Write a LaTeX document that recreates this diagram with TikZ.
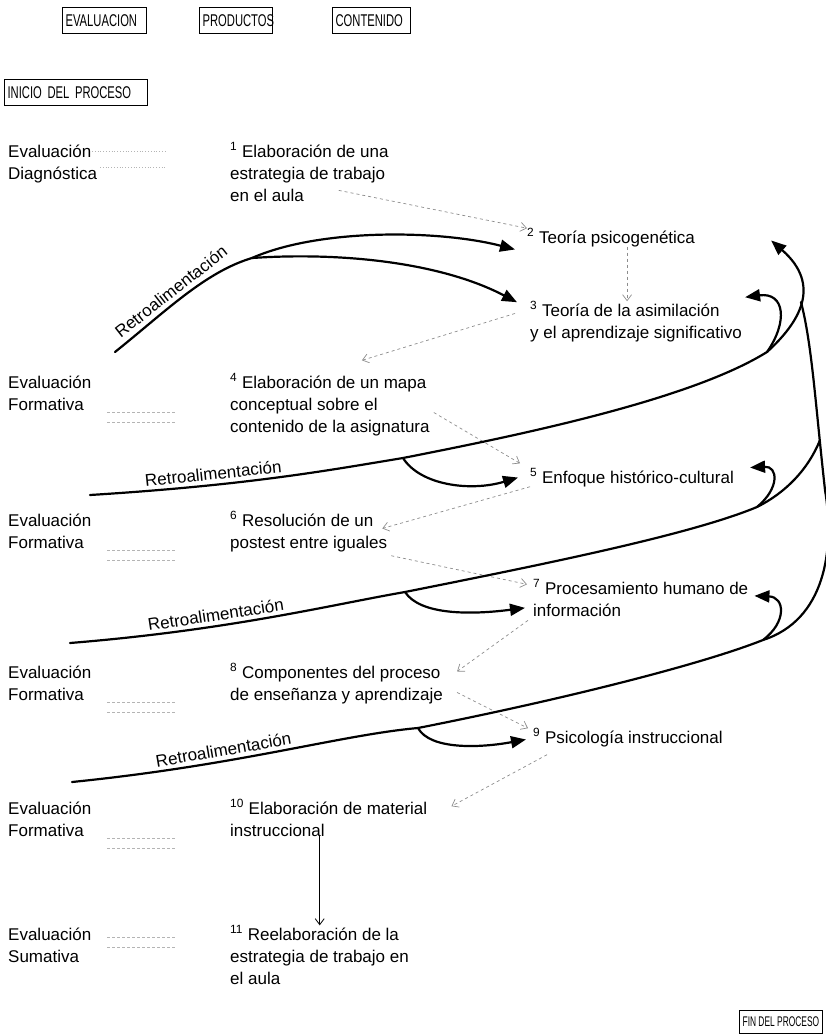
\documentclass[tikz,border=0pt]{standalone}
\usepackage{fontspec}
\setmainfont{Liberation Sans}
\newfontfamily\narrowfont{Liberation Sans}[FakeStretch=0.66]
\newfontfamily\tightfont{Liberation Sans}[FakeStretch=0.6]
\usetikzlibrary{arrows.meta}
\definecolor{scangray}{HTML}{8C8C8C}
\definecolor{ruleink}{HTML}{B4B4B4}

\begin{document}
\begin{tikzpicture}[x=1pt,y=-1pt,
  txt/.style={font=\fontsize{17}{22}\selectfont, align=left, inner sep=0pt, anchor=base west},
  hdr/.style={draw, line width=1.2pt, font=\narrowfont\fontsize{17}{20}\selectfont,
    inner xsep=3pt, inner ysep=0pt, minimum height=26pt, anchor=north west, align=left},
  flow/.style={scangray, dashed, line width=0.7pt, -{Straight Barb[length=6pt,width=9pt]}},
  retro/.style={line width=2.2pt, line cap=round},
  fb/.style={retro, -{Triangle[length=15pt,width=12pt]}},
  lbl/.style={font=\fontsize{17}{20}\selectfont, sloped, above=3pt, inner sep=1pt},
  marks/.style={ruleink, line width=0.8pt, densely dashed}]
  \useasboundingbox (0,0) rectangle (826,1036);

  % column headings
  \node[hdr, text width=78pt] (hev) at (62,7) {EVALUACION};
  \node[hdr, text width=67pt] (hpr) at (199,7) {PRODUCTOS};
  \node[hdr, text width=72pt] (hco) at (332,7) {CONTENIDO};
  \node[hdr, text width=137pt] (ini) at (4,79) {INICIO DEL PROCESO};
  \node[hdr, minimum width=83pt, minimum height=23pt, anchor=south east,
    font=\tightfont\fontsize{14}{16}\selectfont] (fin) at (823,1034) {FIN DEL PROCESO};

  % evaluacion (base = last line)
  \node[txt] (ev1) at (8,179) {Evaluación\\Diagnóstica};
  \node[txt] (ev2) at (8,410) {Evaluación\\Formativa};
  \node[txt] (ev3) at (8,548) {Evaluación\\Formativa};
  \node[txt] (ev4) at (8,700) {Evaluación\\Formativa};
  \node[txt] (ev5) at (8,836) {Evaluación\\Formativa};
  \node[txt] (ev6) at (8,962) {Evaluación\\Sumativa};

  \draw[marks, dotted] (92,151) -- (167,151) (100,167) -- (167,167);
  \draw[marks] (107,412) -- (175,412) (107,422) -- (175,422);
  \draw[marks] (107,550) -- (175,550) (107,560) -- (175,560);
  \draw[marks] (107,702) -- (175,702) (107,712) -- (175,712);
  \draw[marks] (107,838) -- (175,838) (107,848) -- (175,848);
  \draw[marks] (107,937) -- (175,937) (107,947) -- (175,947);

  % productos
  \node[txt] (p1) at (230,201) {\textsuperscript{1} Elaboración de una\\estrategia de trabajo\\en el aula};
  \node[txt] (p4) at (230,432) {\textsuperscript{4} Elaboración de un mapa\\conceptual sobre el\\contenido de la asignatura};
  \node[txt] (p6) at (230,548) {\textsuperscript{6} Resolución de un\\postest entre iguales};
  \node[txt] (p8) at (230,700) {\textsuperscript{8} Componentes del proceso\\de enseñanza y aprendizaje};
  \node[txt] (p10) at (230,836) {\textsuperscript{10} Elaboración de material\\instruccional};
  \node[txt] (p11) at (230,984) {\textsuperscript{11} Reelaboración de la\\estrategia de trabajo en\\el aula};

  % contenido
  \node[txt] (c2) at (527,243) {\textsuperscript{2} Teoría psicogenética};
  \node[txt] (c3) at (530,338) {\textsuperscript{3} Teoría de la asimilación\\y el aprendizaje significativo};
  \node[txt] (c5) at (530,483) {\textsuperscript{5} Enfoque histórico-cultural};
  \node[txt] (c7) at (533,616) {\textsuperscript{7} Procesamiento humano de\\información};
  \node[txt] (c9) at (533,743) {\textsuperscript{9} Psicología instruccional};

  % secuencia del proceso
  \draw[flow] ([shift={(-50,-11)}]p1.south east) -- (c2.north west);
  \draw[flow] ([xshift=16pt]c2.south) -- ([xshift=16pt]c2.south |- c3.north);
  \draw[flow] ([shift={(-15,-8)}]c3.west) -- ([shift={(32,-13)}]p4.north);
  \draw[flow] ([shift={(4,8)}]p4.east) -- ([shift={(-10,-5)}]c5.north west);
  \draw[flow] (c5.south west) -- ([shift={(-5,-3)}]p6.east);
  \draw[flow] ([shift={(4,4)}]p6.south east) -- ([shift={(-6,5)}]c7.north west);
  \draw[flow] ([shift={(-5,4)}]c7.south west) -- ([shift={(14,-12)}]p8.east);
  \draw[flow] ([shift={(14,9)}]p8.east) -- ([xshift=-5pt]c9.north west);
  \draw[flow] ([shift={(14,8)}]c9.south west) -- ([shift={(24,7)}]p10.north east);
  \draw[line width=0.8pt, -{Straight Barb[length=6pt,width=9pt]}]
    ([xshift=-9pt]p10.south) -- ([xshift=-9pt]p10.south |- p11.north);

  % retroalimentacion
  \coordinate (r1a) at (115,352);
  \coordinate (r1b) at (252,258);
  \draw[retro] (r1a) .. controls (165,312) and (205,272) .. node[lbl,pos=0.45] {Retroalimentación} (r1b);
  \draw[fb] (r1b) .. controls (320,228) and (440,230) .. ([shift={(-12,12)}]c2.west);
  \draw[fb] (r1b) .. controls (340,252) and (440,262) .. ([shift={(-13,1)}]c3.north west);

  \coordinate (r2a) at (90,495);
  \coordinate (r2b) at (403,458);
  \coordinate (r2c) at (767,352);
  \draw[fb] (r2a) .. controls (250,485) and (330,470) .. node[lbl,pos=0.3] {Retroalimentación} (r2b)
    .. controls (520,435) and (690,400) .. (r2c)
    .. controls (800,322) and (822,285) .. ([shift={(76,3)}]c2.east);
  \draw[fb] (r2b) .. controls (420,485) and (470,492) .. ([xshift=-12pt]c5.west);
  \draw[fb] (r2c) .. controls (788,322) and (785,292) .. ([shift={(3,-4)}]c3.north east);

  \coordinate (r3a) at (70,643);
  \coordinate (r3b) at (405,592);
  \coordinate (r3c) at (757,507);
  \draw[retro] (r3a) .. controls (230,630) and (330,605) .. node[lbl,pos=0.35] {Retroalimentación} (r3b)
    .. controls (540,565) and (690,535) .. (r3c)
    .. controls (785,493) and (808,470) .. (820,440);
  \draw[fb] (r3b) .. controls (420,615) and (470,615) .. ([shift={(-8,10)}]c7.west);
  \draw[fb] (r3c) .. controls (780,488) and (778,466) .. ([shift={(16,-10)}]c5.east);

  \coordinate (r4a) at (72,782);
  \coordinate (r4b) at (418,728);
  \coordinate (r4c) at (763,640);
  \draw[retro] (r4a) .. controls (240,765) and (340,735) .. node[lbl,pos=0.35] {Retroalimentación} (r4b)
    .. controls (560,700) and (700,665) .. (r4c)
    .. controls (825,620) and (835,550) .. (825,490)
    .. controls (815,400) and (812,345) .. (801,302);
  \draw[fb] (r4b) .. controls (430,750) and (480,748) .. ([shift={(-7,2)}]c9.west);
  \draw[fb] (r4c) .. controls (787,622) and (785,597) .. ([shift={(6,-2)}]c7.east);
\end{tikzpicture}
\end{document}
